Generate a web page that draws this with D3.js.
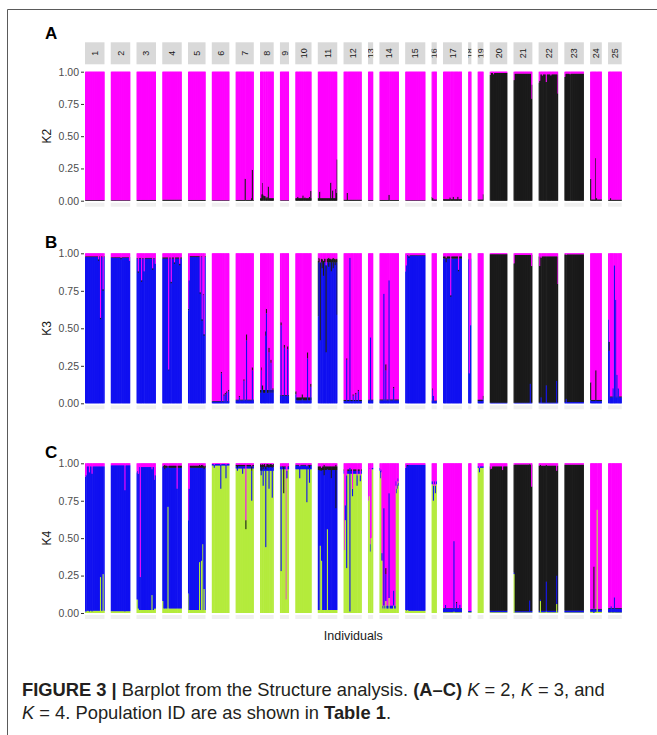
<!DOCTYPE html>
<html>
<head>
<meta charset="utf-8">
<script src="https://cdn.jsdelivr.net/npm/d3@7"></script>
<style>
  body { margin: 0; background: #fff; }
  svg { display: block; font-family: "Liberation Sans", Arial, Helvetica, sans-serif; }
</style>
</head>
<body>
<div id="chart"></div>
<script>
// populations and number of individuals in each
const pops = d3.range(1, 26).map(String);
const sizes = [30, 30, 30, 30, 27, 27, 28, 21, 14, 25, 30, 28, 8, 30, 31, 8, 29, 5, 9, 27, 29, 30, 30, 18, 21];

// K = 2 : usual black share per population (pink is the rest)
const k2Base = [0.005, 0.004, 0.006, 0.008, 0.006, 0.004, 0.006, 0.02, 0.004, 0.02, 0.02, 0.008, 0.005,
  0.006, 0.004, 0.01, 0.012, 0.004, 0.01, 0.99, 0.985, 0.98, 0.985, 0.01, 0.008];
// individuals that differ: [pop, index, black]
const k2Spikes = [
  [7, 14, 0.17], [7, 25, 0.24], [7, 24, 0.02],
  [8, 2, 0.05], [8, 3, 0.14], [8, 4, 0.05], [8, 5, 0.04], [8, 6, 0.04], [8, 7, 0.035], [8, 10, 0.03], [8, 12, 0.11],
  [10, 3, 0.03], [10, 11, 0.04], [10, 14, 0.025], [10, 21, 0.03], [10, 23, 0.075],
  [11, 2, 0.07], [11, 19, 0.14], [11, 22, 0.08], [11, 27, 0.09], [11, 28, 0.06], [11, 29, 0.32],
  [12, 5, 0.06], [14, 14, 0.045], [16, 0, 0.03], [16, 1, 0.02],
  [17, 10, 0.025], [17, 15, 0.03], [17, 22, 0.03], [19, 8, 0.05],
  [20, 0, 0.975], [20, 5, 0.98],
  [21, 0, 0.935], [21, 27, 0.79], [21, 28, 0.9],
  [22, 0, 0.915], [22, 1, 0.93], [22, 5, 0.97], [22, 11, 0.92], [22, 18, 0.97], [22, 29, 0.83],
  [23, 0, 0.96], [23, 8, 0.98],
  [24, 0, 0.17], [24, 8, 0.33], [24, 9, 0.02], [25, 3, 0.02]
];

// K = 3 : [blue, black] (pink is the rest)
const k3Base = [
  [0.975, 0.005], [0.97, 0.004], [0.965, 0.005], [0.965, 0.008], [0.975, 0.006],
  [0.012, 0.004], [0.02, 0.005], [0.07, 0.02], [0.05, 0.005], [0.02, 0.02],
  [0.94, 0.025], [0.015, 0.008], [0.02, 0.005], [0.02, 0.006], [0.985, 0.003],
  [0.015, 0.004], [0.965, 0.015], [0.96, 0.005], [0.015, 0.01], [0.004, 0.99],
  [0.004, 0.985], [0.005, 0.975], [0.008, 0.985], [0.015, 0.008], [0.04, 0.006]
];
const k3Spikes = [
  [1, 20, 0.95, 0.01], [1, 23, 0.56, 0.01], [1, 27, 0.75, 0.01],
  [2, 15, 0.96, 0.01], [2, 28, 0.95, 0],
  [3, 2, 0.87, 0.01], [3, 7, 0.81, 0.01], [3, 11, 0.88, 0], [3, 24, 0.89, 0.01], [3, 28, 0.93, 0],
  [4, 9, 0.22, 0.005], [4, 13, 0.8, 0.01], [4, 18, 0.93, 0.01], [4, 26, 0.92, 0.01],
  [5, 0, 0.62, 0.01], [5, 1, 0.82, 0], [5, 18, 0.73, 0.01], [5, 21, 0.55, 0.01], [5, 23, 0.72, 0.01], [5, 24, 0.45, 0.01],
  [6, 14, 0.2, 0.01], [6, 18, 0.05, 0.01], [6, 20, 0.06, 0.01], [6, 22, 0.07, 0.01], [6, 25, 0.08, 0.01],
  [7, 5, 0.04, 0.01], [7, 12, 0.15, 0.01], [7, 16, 0.42, 0.04], [7, 25, 0.22, 0.02],
  [8, 2, 0.22, 0.02], [8, 3, 0.09, 0.03], [8, 8, 0.45, 0.03], [8, 9, 0.6, 0.03], [8, 13, 0.34, 0.03], [8, 16, 0.27, 0.02], [8, 19, 0.09, 0.01],
  [9, 1, 0.52, 0.02], [9, 6, 0.37, 0.02], [9, 11, 0.36, 0.02],
  [10, 0, 0.06, 0.02], [10, 10, 0.03, 0.03], [10, 18, 0.3, 0.04], [10, 23, 0.11, 0.02],
  [11, 0, 0.58, 0.37], [11, 1, 0.94, 0.03], [11, 3, 0.42, 0.52], [11, 6, 0.9, 0.06], [11, 8, 0.85, 0.1], [11, 12, 0.34, 0.58],
  [11, 16, 0.91, 0.06], [11, 20, 0.88, 0.08], [11, 23, 0.9, 0.07], [11, 26, 0.92, 0.04], [11, 29, 0.59, 0.37],
  [12, 4, 0.29, 0.01], [12, 9, 0.97, 0], [12, 14, 0.05, 0.01], [12, 18, 0.06, 0.01], [12, 22, 0.08, 0.01],
  [13, 3, 0.44, 0],
  [14, 6, 0.73, 0], [14, 9, 0.22, 0.04], [14, 14, 0.82, 0], [14, 21, 0.1, 0.01],
  [15, 0, 0.88, 0], [15, 1, 0.92, 0], [15, 5, 0.97, 0.01],
  [16, 1, 0.09, 0.01], [16, 2, 0.05, 0],
  [17, 4, 0.94, 0.03], [17, 11, 0.71, 0.01], [17, 23, 0.88, 0.01],
  [18, 1, 0.2, 0], [18, 3, 0.52, 0],
  [19, 8, 0.03, 0.02],
  [21, 0, 0.003, 0.93], [21, 25, 0.13, 0.86], [21, 27, 0.005, 0.91],
  [22, 1, 0.005, 0.91], [22, 3, 0.04, 0.93], [22, 11, 0.12, 0.86], [22, 27, 0.15, 0.83], [22, 29, 0.005, 0.79],
  [23, 2, 0.03, 0.96],
  [24, 0, 0.02, 0.12], [24, 8, 0.02, 0.2],
  [25, 0, 0.56, 0], [25, 1, 0.35, 0.06], [25, 7, 0.1, 0], [25, 9, 0.92, 0], [25, 11, 0.69, 0], [25, 13, 0.19, 0], [25, 15, 0.1, 0]
];

// K = 4 : [green, blue, black] (pink is the rest)
const k4Base = [
  [0.015, 0.965, 0], [0.012, 0.975, 0], [0.02, 0.955, 0], [0.03, 0.94, 0.015], [0.02, 0.95, 0.015],
  [0.985, 0.01, 0], [0.965, 0.015, 0.01], [0.95, 0.025, 0.02], [0.96, 0.015, 0.005], [0.96, 0.025, 0.005],
  [0.02, 0.935, 0.025], [0.93, 0.02, 0.01], [0.96, 0.01, 0], [0.03, 0.02, 0], [0.015, 0.975, 0],
  [0.86, 0.02, 0], [0.005, 0.025, 0.003], [0.005, 0.01, 0], [0.97, 0.01, 0], [0.005, 0.01, 0.965],
  [0.004, 0.008, 0.98], [0.005, 0.01, 0.97], [0.004, 0.012, 0.975], [0.008, 0.015, 0.005], [0.004, 0.025, 0.005]
];
const k4Spikes = [
  [1, 0, 0.01, 0.9, 0], [1, 1, 0.01, 0.91, 0], [1, 6, 0.01, 0.93, 0], [1, 10, 0.01, 0.92, 0], [1, 23, 0.24, 0.74, 0], [1, 27, 0.26, 0.72, 0],
  [2, 21, 0.01, 0.81, 0],
  [3, 0, 0.09, 0.85, 0], [3, 1, 0.09, 0.86, 0], [3, 2, 0.03, 0.9, 0], [3, 5, 0.02, 0.22, 0], [3, 23, 0.12, 0.84, 0], [3, 27, 0.03, 0.86, 0], [3, 28, 0.03, 0.89, 0],
  [4, 0, 0.08, 0.9, 0], [4, 3, 0.03, 0.93, 0.03], [4, 8, 0.71, 0.27, 0], [4, 22, 0.03, 0.8, 0],
  [5, 0, 0.13, 0.49, 0], [5, 1, 0.02, 0.81, 0], [5, 17, 0.34, 0.63, 0.02], [5, 20, 0.35, 0.62, 0.02], [5, 22, 0.46, 0.51, 0.02], [5, 24, 0.16, 0.8, 0.02],
  [6, 3, 0.97, 0.02, 0], [6, 13, 0.83, 0.16, 0], [6, 21, 0.9, 0.09, 0],
  [7, 2, 0.95, 0.02, 0.02], [7, 10, 0.93, 0.05, 0.01], [7, 15, 0.56, 0, 0.06], [7, 24, 0.75, 0.2, 0.03],
  [8, 1, 0.92, 0.03, 0.04], [8, 4, 0.85, 0.11, 0.03], [8, 8, 0.44, 0.52, 0.02], [8, 13, 0.83, 0.14, 0.02], [8, 18, 0.77, 0.2, 0.02],
  [9, 1, 0.28, 0.7, 0], [9, 5, 0.8, 0, 0.18], [9, 9, 0.09, 0, 0], [9, 10, 0.9, 0.05, 0],
  [10, 6, 0.9, 0.08, 0], [10, 17, 0.74, 0.24, 0], [10, 21, 0.87, 0.1, 0.02],
  [11, 3, 0.45, 0.5, 0.03], [11, 5, 0.35, 0.6, 0.02], [11, 9, 0.02, 0.9, 0.07], [11, 14, 0.56, 0.4, 0.02], [11, 20, 0.02, 0.88, 0.08], [11, 27, 0.02, 0.68, 0.29],
  [12, 1, 0.42, 0, 0], [12, 2, 0.62, 0.1, 0], [12, 4, 0.3, 0.62, 0], [12, 9, 0.01, 0.96, 0], [12, 13, 0.78, 0.05, 0], [12, 20, 0.85, 0.07, 0], [12, 25, 0.88, 0.04, 0],
  [13, 0, 0.75, 0, 0], [13, 1, 0.78, 0, 0], [13, 3, 0.41, 0.05, 0], [13, 4, 0.5, 0, 0],
  [14, 0, 0.95, 0.02, 0], [14, 1, 0.9, 0.05, 0], [14, 2, 0.94, 0.02, 0], [14, 3, 0.35, 0.05, 0], [14, 6, 0.05, 0.65, 0], [14, 9, 0.08, 0.18, 0.04],
  [14, 14, 0.1, 0.7, 0], [14, 21, 0.05, 0.1, 0], [14, 25, 0.85, 0.03, 0], [14, 26, 0.8, 0.03, 0], [14, 27, 0.83, 0.03, 0], [14, 28, 0.88, 0.02, 0], [14, 29, 0.85, 0.02, 0],
  [15, 0, 0.02, 0.95, 0], [15, 3, 0.02, 0.96, 0.01],
  [16, 2, 0.75, 0.1, 0], [16, 5, 0.8, 0.05, 0],
  [17, 3, 0.005, 0.05, 0], [17, 16, 0.01, 0.47, 0], [17, 20, 0.005, 0.06, 0.01], [17, 25, 0.005, 0.05, 0],
  [19, 2, 0.94, 0.03, 0],
  [20, 1, 0.005, 0.01, 0.945], [20, 2, 0.005, 0.01, 0.95], [20, 19, 0.005, 0.01, 0.94],
  [21, 0, 0.26, 0.01, 0.72], [21, 24, 0.004, 0.08, 0.91], [21, 27, 0.004, 0.01, 0.83],
  [22, 2, 0.08, 0.01, 0.9], [22, 11, 0.01, 0.2, 0.78], [22, 27, 0.06, 0.19, 0.7],
  [24, 5, 0, 0.03, 0.28], [24, 10, 0.69, 0, 0],
  [25, 4, 0.005, 0.04, 0], [25, 9, 0.005, 0.1, 0]
];

const pink = "#FF00FF", black = "#1A1A1A", blue = "#1010F0", green = "#B4EB3C";

// one row of shares per individual, pink last; odd individuals are flagged
function individuals(base, spikes) {
  return pops.map((p, pi) => d3.range(sizes[pi]).map(i => {
    const s = spikes.find(d => d[0] === pi + 1 && d[1] === i);
    const q = s ? s.slice(2) : [].concat(base[pi]);
    return { odd: !!s, q: q.concat([Math.max(0, 1 - d3.sum(q))]) };
  }));
}

const panels = [
  { tag: "A", tagY: 38.5, title: "K2", top: 71.7, bottom: 200.7, colors: [black, pink], rows: individuals(k2Base, k2Spikes) },
  { tag: "B", tagY: 248, title: "K3", top: 253.3, bottom: 403.3, colors: [blue, black, pink], rows: individuals(k3Base, k3Spikes) },
  { tag: "C", tagY: 458, title: "K4", top: 463.3, bottom: 613, colors: [green, blue, black, pink], rows: individuals(k4Base, k4Spikes) }
];

const width = 657, height = 735;
const svg = d3.select("#chart").append("svg")
  .attr("width", width)
  .attr("height", height);

// figure frame (top and left edges)
svg.append("path")
  .attr("d", "M7.5,735V9.5H657")
  .attr("fill", "none")
  .attr("stroke", "#5a5a5a");

// facet positions, width follows the number of individuals
const left = 85, right = 621.7, gap = 6.25;
const unit = (right - left - gap * (pops.length - 1)) / d3.sum(sizes);
let cursor = left;
const facets = pops.map((p, i) => {
  const x0 = cursor, x1 = x0 + sizes[i] * unit;
  cursor = x1 + gap;
  return { pop: p, i: i, x0: x0, x1: x1, x: d3.scaleBand().domain(d3.range(sizes[i])).range([x0, x1]) };
});

// strips with population IDs above panel A
const defs = svg.append("defs");
const strips = svg.append("g");
facets.forEach(f => {
  defs.append("clipPath").attr("id", "strip" + f.pop)
    .append("rect").attr("x", f.x0).attr("y", 42.3).attr("width", f.x1 - f.x0).attr("height", 22);
  strips.append("rect")
    .attr("x", f.x0).attr("y", 42.3)
    .attr("width", f.x1 - f.x0).attr("height", 22)
    .attr("fill", "#D9D9D9");
  strips.append("g")
    .attr("clip-path", "url(#strip" + f.pop + ")")
    .append("text")
    .attr("transform", `translate(${(f.x0 + f.x1) / 2},53.3) rotate(-90)`)
    .attr("text-anchor", "middle")
    .attr("dy", "0.35em")
    .attr("font-size", 9)
    .attr("fill", "#1A1A1A")
    .text(f.pop);
});

panels.forEach(panel => {
  const y = d3.scaleLinear().domain([0, 1]).range([panel.bottom, panel.top]);
  const g = svg.append("g");

  // faint band under each facet
  g.selectAll("rect.under")
    .data(facets)
    .join("rect")
    .attr("class", "under")
    .attr("x", f => f.x0)
    .attr("y", panel.bottom + 2)
    .attr("width", f => f.x1 - f.x0)
    .attr("height", 4)
    .attr("fill", "#F0F0F0");

  // stacked bars, one per individual; odd individuals drawn last so they stay visible
  const bars = [];
  facets.forEach(f => {
    panel.rows[f.i].forEach((d, i) => {
      let acc = 0;
      const x = f.x(i);
      const w = Math.min(f.x.bandwidth() + (d.odd ? 0.45 : 0.7), f.x1 - x);
      d.q.forEach((v, j) => {
        bars.push({ odd: d.odd, x: x, w: w, y0: acc, y1: acc + v, c: panel.colors[j] });
        acc += v;
      });
    });
  });
  bars.sort((a, b) => a.odd - b.odd);
  g.selectAll("rect.bar")
    .data(bars.filter(d => d.y1 > d.y0))
    .join("rect")
    .attr("class", "bar")
    .attr("x", d => d.x)
    .attr("width", d => d.w)
    .attr("y", d => y(Math.min(1, d.y1)))
    .attr("height", d => y(d.y0) - y(Math.min(1, d.y1)))
    .attr("fill", d => d.c);

  // y axis
  const axis = svg.append("g")
    .attr("transform", "translate(84,0)")
    .call(d3.axisLeft(y).tickValues([0, 0.25, 0.5, 0.75, 1]).tickFormat(d3.format(".2f")).tickSize(3).tickPadding(2));
  axis.select(".domain").remove();
  axis.selectAll(".tick line").attr("stroke", "#333");
  axis.selectAll(".tick text").attr("fill", "#4D4D4D").attr("font-size", 10.5)
    .attr("font-family", "Liberation Sans, Arial, sans-serif");

  svg.append("text")
    .attr("transform", `translate(51,${(panel.top + panel.bottom) / 2}) rotate(-90)`)
    .attr("text-anchor", "middle")
    .attr("font-size", 12)
    .attr("fill", "#1A1A1A")
    .text(panel.title);

  svg.append("text")
    .attr("x", 45)
    .attr("y", panel.tagY)
    .attr("font-size", 17)
    .attr("font-weight", "bold")
    .attr("fill", "#000")
    .text(panel.tag);
});

svg.append("text")
  .attr("x", (left + right) / 2)
  .attr("y", 640)
  .attr("text-anchor", "middle")
  .attr("font-size", 12.5)
  .attr("fill", "#1A1A1A")
  .text("Individuals");

// caption
const caption = svg.append("g").attr("fill", "#231F20");
const line1 = caption.append("text").attr("x", 22).attr("y", 696).attr("font-size", 16);
[["FIGURE 3 | ", "bold"], ["Barplot from the Structure analysis. ", ""], ["(A–C) ", "bold"],
 ["K", "italic"], [" = 2, ", ""], ["K", "italic"], [" = 3, and", ""]]
  .forEach(([t, s]) => {
    const ts = line1.append("tspan").text(t);
    if (s === "bold") ts.attr("font-weight", "bold");
    if (s === "italic") ts.attr("font-style", "italic");
  });
const line2 = caption.append("text").attr("x", 22).attr("y", 719).attr("font-size", 16);
[["K", "italic"], [" = 4. Population ID are as shown in ", ""], ["Table 1", "bold"], [".", ""]]
  .forEach(([t, s]) => {
    const ts = line2.append("tspan").text(t);
    if (s === "bold") ts.attr("font-weight", "bold");
    if (s === "italic") ts.attr("font-style", "italic");
  });

// fit caption to the width of the original text block
const fit = 583 / line1.node().getComputedTextLength();
line1.attr("font-size", 16 * fit);
line2.attr("font-size", 16 * fit);
</script>
</body>
</html>
